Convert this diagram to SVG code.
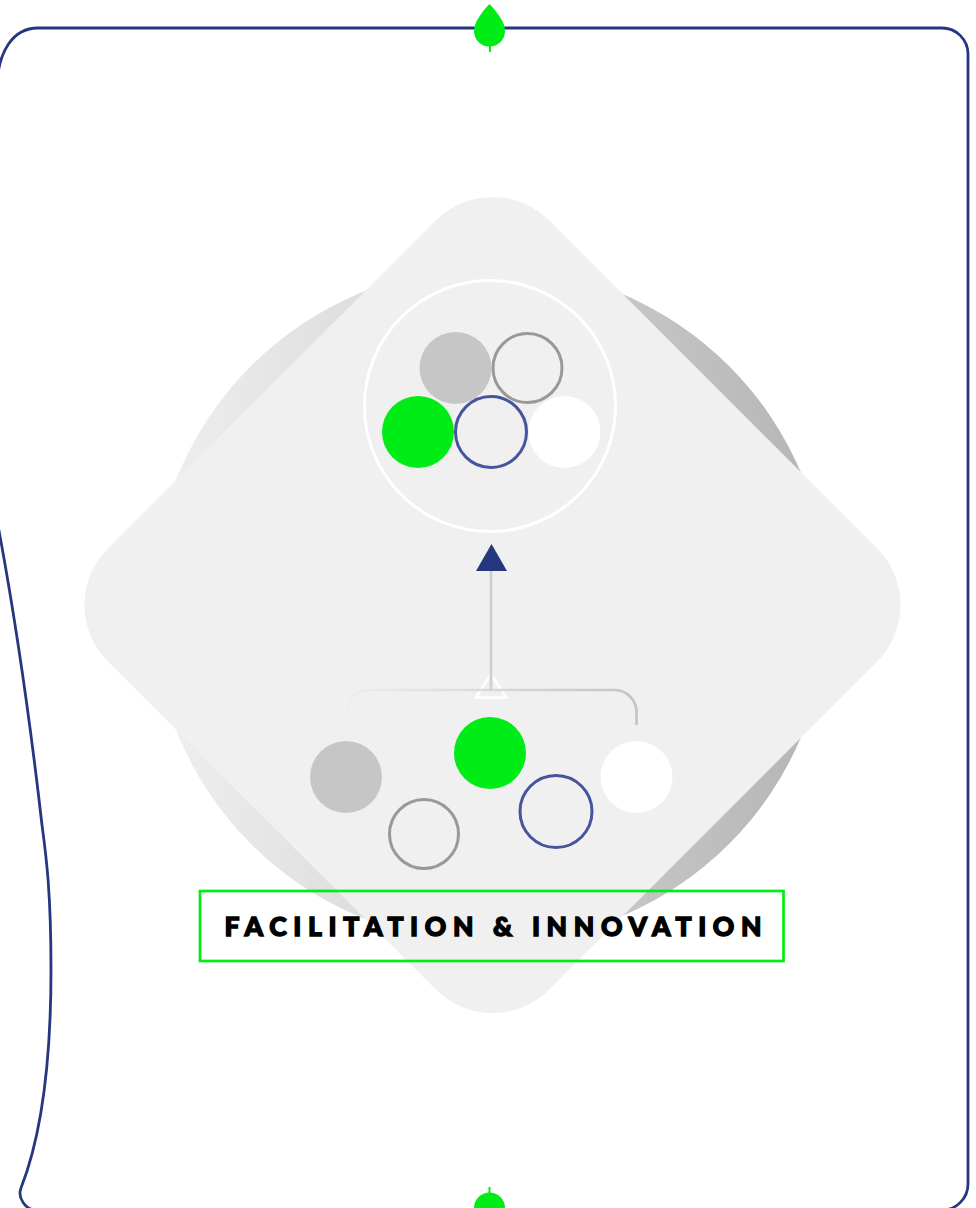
<svg xmlns="http://www.w3.org/2000/svg" width="976" height="1208" viewBox="0 0 976 1208">
<style>
.g{fill:#00ec17}.gr{fill:#c6c6c6}.w{fill:#fff}
.r1{fill:none;stroke:#999;stroke-width:3}
.r2{fill:none;stroke:#46549c;stroke-width:3}
text{font-family:"Lato","Liberation Sans",sans-serif;font-weight:900;font-size:26.500px;fill:#000;stroke:#000;stroke-width:1.400px}
</style>
<defs>
<linearGradient id="cg" gradientUnits="userSpaceOnUse" x1="152" y1="0" x2="828" y2="0"><stop offset="0" stop-color="#f0f0f0"/><stop offset="1" stop-color="#b4b4b4"/></linearGradient>
<linearGradient id="bg" gradientUnits="userSpaceOnUse" x1="346" y1="0" x2="637" y2="0"><stop offset="0" stop-color="#eeeeee"/><stop offset="1" stop-color="#c4c4c4"/></linearGradient>
</defs>
<g id="frame"><path d="M38 28H942A26 26 0 0 1 968 54V1184A26 26 0 0 1 942 1210H36C26 1210 17 1198 21 1188C34 1155 51 1090 51 970C51 890 46 855 42 825C30 720 14 610 -3 520V90C-3 50 14 28 38 28Z" fill="none" stroke="#25377f" stroke-width="2.800"/></g>
<g id="leaf-top"><path d="M489.500 4C497 12 505 22 505 31A15.500 15.500 0 0 1 474 31C474 22 482 12 489.500 4Z" class="g"/><path d="M490 44V52" stroke="#00ec17" stroke-width="2" fill="none"/></g>
<g id="leaf-bottom"><circle cx="489.500" cy="1208" r="15.500" class="g"/><path d="M489.500 1187V1195" stroke="#00ec17" stroke-width="2" fill="none"/></g>
<g id="disc"><circle cx="490" cy="605" r="338" fill="url(#cg)"/></g>
<g id="diamond"><rect x="180.500" y="293" width="624" height="624" rx="80" fill="#f0f0f0" transform="rotate(45 492.500 605)"/></g>
<g id="top-ring"><circle cx="490" cy="406" r="125.500" fill="none" stroke="#fff" stroke-width="3"/></g>
<g id="t1"><circle cx="455.500" cy="368" r="36" class="gr"/></g>
<g id="t2"><circle cx="527.500" cy="368" r="34.500" class="r1"/></g>
<g id="t3"><circle cx="418" cy="432" r="36" class="g"/></g>
<g id="t4"><circle cx="564.500" cy="432" r="36" class="w"/></g>
<g id="t5"><circle cx="491" cy="432" r="35.500" class="r2"/></g>
<g id="b1"><circle cx="346" cy="777" r="36" class="gr"/></g>
<g id="b2"><circle cx="424" cy="834" r="34.500" class="r1"/></g>
<g id="b3"><circle cx="490" cy="753" r="36" class="g"/></g>
<g id="b4"><circle cx="556" cy="811.500" r="36" class="r2"/></g>
<g id="b5"><circle cx="636.500" cy="777" r="36" class="w"/></g>
<g id="connectors">
<path d="M491 674L506 697.500H476Z" fill="none" stroke="#fff" stroke-width="2.700"/>
<path d="M346.500 725V712A22 22 0 0 1 368.500 690H614.500A22 22 0 0 1 636.500 712V725" fill="none" stroke="url(#bg)" stroke-width="2.700"/>
<path d="M491 570V690" fill="none" stroke="#cfcfcf" stroke-width="2.700"/>
<path d="M491.500 544L507 571H476Z" fill="#25377f"/>
</g>
<g id="label"><rect x="200" y="891" width="583.500" height="70" fill="none" stroke="#00ec17" stroke-width="2.700"/><text x="224.500" y="936" textLength="537" lengthAdjust="spacing">FACILITATION &amp; INNOVATION</text></g>
</svg>
